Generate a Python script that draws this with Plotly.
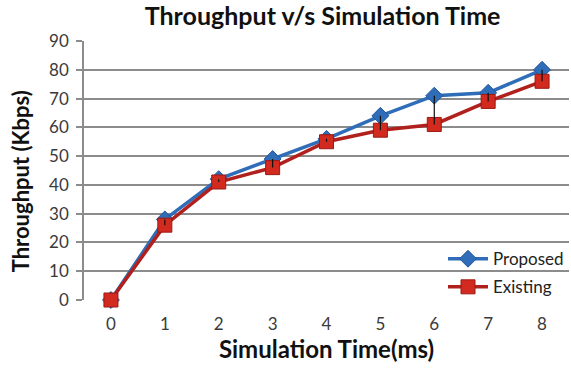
import plotly.graph_objects as go

# Simulation time (ms) and throughput (Kbps) for the two schemes
sim_time = [0, 1, 2, 3, 4, 5, 6, 7, 8]
proposed = [0, 28, 42, 49, 56, 64, 71, 72, 80]
existing = [0, 26, 41, 46, 55, 59, 61, 69, 76]
y_ticks = [0, 10, 20, 30, 40, 50, 60, 70, 80, 90]

FONT = "Lato"

fig = go.Figure()

fig.add_trace(go.Scatter(
    x=sim_time, y=proposed, name="Proposed", mode="lines+markers",
    legendgroup="p",
    line=dict(color="#2F6DB8", width=3.5),
    marker=dict(symbol="diamond", size=13, color="#2F6DB8",
                line=dict(color="#24589A", width=1)),
    cliponaxis=False,
))
fig.add_trace(go.Scatter(
    x=sim_time, y=existing, name="Existing", mode="lines+markers",
    legendgroup="e",
    line=dict(color="#B0201C", width=3.5),
    marker=dict(symbol="square", size=14, color="#D22A1F",
                line=dict(color="#9A1A14", width=1)),
    cliponaxis=False,
))

# High-low connectors between the two series at each time step
hl_x, hl_y = [], []
for t, p, e in zip(sim_time, proposed, existing):
    hl_x += [t, t, None]
    hl_y += [p, e, None]
fig.add_trace(go.Scatter(
    x=hl_x, y=hl_y, mode="lines", showlegend=False, hoverinfo="skip",
    line=dict(color="#111111", width=1.2),
))

fig.update_layout(
    width=571, height=368,
    margin=dict(l=84, r=2, t=41, b=68),
    paper_bgcolor="white", plot_bgcolor="white",
    font=dict(family=FONT, color="#3A3A3A", size=17),
    title=dict(text="<b>Throughput v/s Simulation Time</b>",
               x=0.565, xanchor="center", y=0.955, yanchor="middle",
               font=dict(size=25, color="#111111", family=FONT)),
    showlegend=True,
    legend=dict(x=1.0, y=-0.02, xanchor="right", yanchor="bottom",
                bgcolor="rgba(0,0,0,0)", font=dict(size=17, color="#222222"),
                itemwidth=40, tracegroupgap=3),
    annotations=[dict(
        text="<b>Throughput (Kbps)</b>", textangle=-90,
        xref="paper", yref="paper", x=-0.131, y=0.46,
        xanchor="center", yanchor="middle", showarrow=False,
        font=dict(size=22, color="#111111", family=FONT),
    )],
)

fig.update_xaxes(
    range=[-0.5, 8.5], tickmode="array", tickvals=sim_time,
    ticktext=[str(t) for t in sim_time],
    showgrid=False, zeroline=False, showline=False,
    ticks="", ticklabelstandoff=12, tickfont=dict(size=17, color="#3A3A3A"),
    title=dict(text="<b>Simulation Time(ms)</b>",
               font=dict(size=24, color="#111111"), standoff=2),
)
fig.update_yaxes(
    range=[0, 90], tickmode="array", tickvals=y_ticks,
    showgrid=True, gridcolor="#8C8C8C", gridwidth=1.6,
    zeroline=False, showline=True, linecolor="#8C8C8C", linewidth=1.6,
    ticks="outside", ticklen=6, tickcolor="#8C8C8C", tickwidth=1.6,
    ticklabelstandoff=4, tickfont=dict(size=17, color="#3A3A3A"),
)

fig.write_html("out.html")
